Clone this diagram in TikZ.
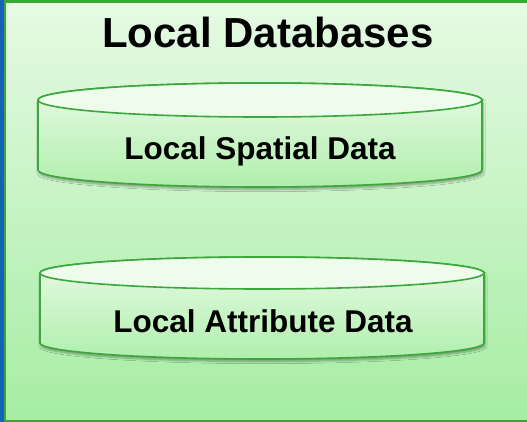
\documentclass[tikz,border=0pt]{standalone}
\usepackage{fontspec}
\setmainfont{Liberation Sans}
\usetikzlibrary{shadows.blur}
\definecolor{bgtop}{HTML}{E6FAE4}
\definecolor{bgbot}{HTML}{A6EDA3}
\definecolor{cyltop}{HTML}{E8FAE6}
\definecolor{cylbot}{HTML}{B0EFAC}
\definecolor{cyllid}{HTML}{EEFCEC}
\definecolor{edgegreen}{HTML}{3DA63D}
\definecolor{framegreen}{HTML}{35A835}
\definecolor{frameblue}{HTML}{1560B8}
\tikzset{
  cylbody/.style={draw=edgegreen, line width=1.6pt, top color=cyltop, bottom color=cylbot,
    blur shadow={shadow xshift=1pt, shadow yshift=-2.5pt, shadow blur steps=6, shadow opacity=35}},
  cyllidstyle/.style={draw=edgegreen, line width=1.6pt, fill=cyllid},
  titletext/.style={font=\bfseries\fontsize{42}{44}\selectfont, anchor=base, inner sep=0pt},
  labeltext/.style={font=\bfseries\fontsize{31.5}{33}\selectfont, anchor=base, inner sep=0pt}
}
\begin{document}
\begin{tikzpicture}[x=1pt,y=-1pt]
\useasboundingbox (0,0) rectangle (527,422);
% background
\fill[top color=bgtop, bottom color=bgbot] (0,0) rectangle (527,422);
\fill[framegreen] (0,0) rectangle (527,3);
\fill[framegreen] (0,419.5) rectangle (527,422);
\fill[framegreen] (3,0) rectangle (6,422);
\fill[frameblue] (0,0) rectangle (4,422);
% title
\node[titletext] (title) at (268,48) {Local Databases};
% cylinder 1
\path[cylbody] (38,100) -- (38,170) arc[start angle=180, end angle=0, x radius=222, y radius=17]
  -- (482,100) arc[start angle=0, end angle=-180, x radius=222, y radius=17] -- cycle;
\path[cyllidstyle] (260,100) ellipse[x radius=222, y radius=17];
\node[labeltext] (spatial) at (260,160) {Local Spatial Data};
% cylinder 2
\path[cylbody] (40,273) -- (40,343) arc[start angle=180, end angle=0, x radius=222, y radius=16]
  -- (484,273) arc[start angle=0, end angle=-180, x radius=222, y radius=16] -- cycle;
\path[cyllidstyle] (262,273) ellipse[x radius=222, y radius=16];
\node[labeltext] (attribute) at (263,332) {Local Attribute Data};
\end{tikzpicture}
\end{document}
